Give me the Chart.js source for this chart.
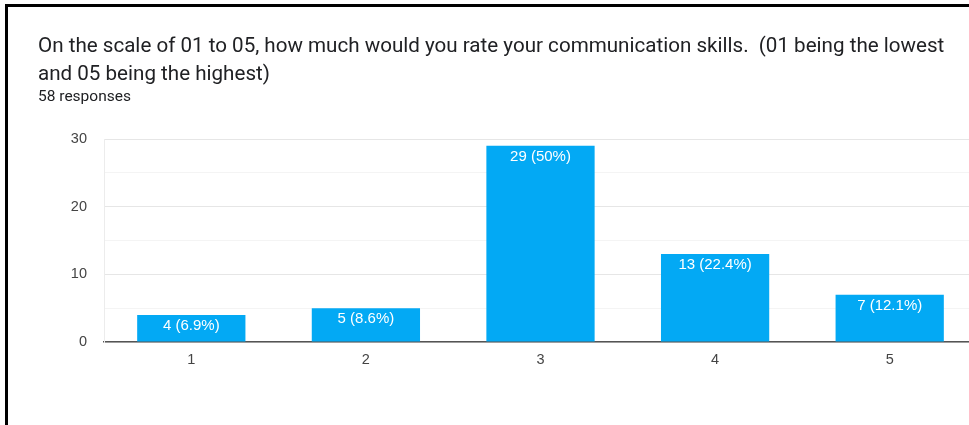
<!DOCTYPE html>
<html>
<head>
<meta charset="utf-8">
<script src="https://cdn.jsdelivr.net/npm/chart.js@4/dist/chart.umd.min.js"></script>
<style>
    html, body { margin: 0; padding: 0; background: #fff; overflow: hidden; }
    #wrap { position: absolute; left: 0; top: 0; width: 990px; height: 425px; }
    #frame { position: absolute; left: 5px; top: 4px; width: 980px; height: 440px;
             border-left: 3px solid #000; border-top: 3px solid #000; pointer-events: none; }
</style>
</head>
<body>
<div id="wrap"><canvas id="chart"></canvas></div>
<div id="frame"></div>
<script>
// Survey results: rating of communication skills
const categories = ['1', '2', '3', '4', '5'];
const counts = [4, 5, 29, 13, 7];
const shares = ['6.9%', '8.6%', '50%', '22.4%', '12.1%'];
const yTicks = [0, 10, 20, 30];
const titleLines = [
    'On the scale of 01 to 05, how much would you rate your communication skills.  (01 being the lowest',
    'and 05 being the highest)'
];
const responsesText = '58 responses';

const barColor = '#03a9f4';
const axisFont = "'Liberation Sans', Arial, sans-serif";

const barLabels = {
    id: 'barLabels',
    afterDatasetsDraw(chart) {
        const ctx = chart.ctx;
        const meta = chart.getDatasetMeta(0);
        ctx.save();
        ctx.fillStyle = '#ffffff';
        ctx.font = '15px ' + axisFont;
        ctx.textAlign = 'center';
        ctx.textBaseline = 'middle';
        meta.data.forEach((bar, i) => {
            ctx.fillText(counts[i] + ' (' + shares[i] + ')', bar.x, bar.y + 11);
        });
        ctx.restore();
    }
};

new Chart(document.getElementById('chart'), {
    type: 'bar',
    data: {
        labels: categories,
        datasets: [{
            data: counts,
            backgroundColor: barColor,
            borderWidth: 0,
            categoryPercentage: 1,
            barPercentage: 0.62
        }]
    },
    options: {
        responsive: true,
        maintainAspectRatio: false,
        animation: false,
        events: [],
        layout: { padding: { left: 38, right: 13, top: 0, bottom: 57 } },
        scales: {
            x: {
                afterFit(scale) { scale.height = 26; },
                grid: { display: false, drawTicks: false },
                border: { display: true, color: '#555555', width: 1.5 },
                ticks: {
                    color: '#444444',
                    padding: 9,
                    font: { family: axisFont, size: 14.5 }
                }
            },
            y: {
                min: 0,
                max: 30,
                afterFit(scale) { scale.width = 66; },
                border: { display: true, color: '#ececec', width: 1 },
                grid: {
                    drawTicks: false,
                    color: (c) => (yTicks.includes(c.tick.value) ? '#e6e6e6' : '#f4f4f4')
                },
                ticks: {
                    stepSize: 5,
                    padding: 17,
                    color: '#444444',
                    font: { family: axisFont, size: 14.5 },
                    callback: (v) => (yTicks.includes(v) ? v : '')
                }
            }
        },
        plugins: {
            legend: { display: false },
            tooltip: { enabled: false },
            title: {
                display: true,
                text: titleLines,
                align: 'start',
                color: '#202124',
                font: { family: 'Roboto, sans-serif', size: 20.6, weight: 'normal', lineHeight: '28px' },
                padding: { top: 33, bottom: 0 }
            },
            subtitle: {
                display: true,
                text: responsesText,
                align: 'start',
                color: '#202124',
                font: { family: 'Roboto, sans-serif', size: 15.5, weight: 'normal', lineHeight: '16px' },
                padding: { top: 0, bottom: 34 }
            }
        }
    },
    plugins: [barLabels]
});
</script>
</body>
</html>
